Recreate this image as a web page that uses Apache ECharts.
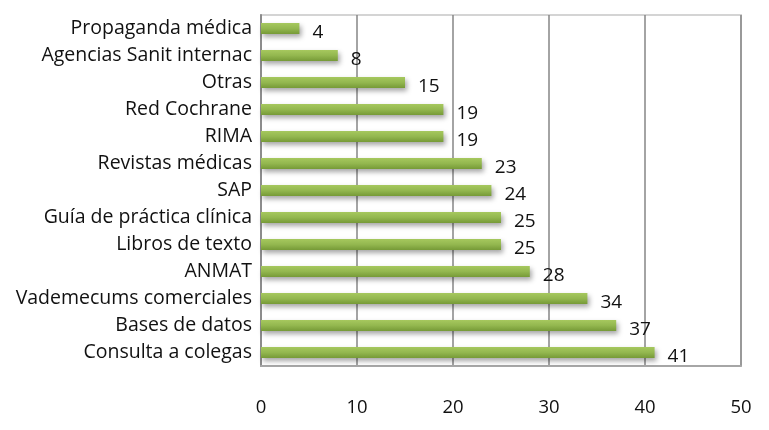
<!DOCTYPE html>
<html><head><meta charset="utf-8">
<script src="https://cdn.jsdelivr.net/npm/echarts@6/dist/echarts.min.js"></script>
<style>html,body{margin:0;padding:0;background:#fff}#c{width:769px;height:430px}</style>
</head><body><div id="c"></div>
<script>
const categories = ["Consulta a colegas","Bases de datos","Vademecums comerciales","ANMAT","Libros de texto","Guía de práctica clínica","SAP","Revistas médicas","RIMA","Red Cochrane","Otras","Agencias Sanit internac","Propaganda médica"];
const values = [41,37,34,28,25,25,24,23,19,19,15,8,4];
const xTicks = [0,10,20,30,40,50];
const FONT = '"Open Sans", "Liberation Sans", sans-serif';
const chart = echarts.init(document.getElementById('c'), null, {renderer:'canvas'});
chart.setOption({
  animation:false,
  grid:{left:261,top:15,width:480,height:351,show:true,borderColor:'#d4d4d4',borderWidth:2,backgroundColor:'#fff'},
  xAxis:{type:'value',min:xTicks[0],max:xTicks[xTicks.length-1],interval:10,
    axisLine:{show:true,lineStyle:{color:'#a6a6a6',width:2}},axisTick:{show:false},
    splitLine:{show:true,lineStyle:{color:'#868686',width:1.5}},
    axisLabel:{color:'#111',fontSize:18.5,fontFamily:FONT,margin:32}},
  yAxis:{type:'category',data:categories,
    axisLine:{show:true,lineStyle:{color:'#8c8c8c',width:2}},axisTick:{show:false},
    axisLabel:{color:'#111',fontSize:19.5,fontFamily:FONT,margin:9}},
  series:[{type:'bar',data:values,barWidth:11,
    itemStyle:{color:new echarts.graphic.LinearGradient(0,0,0,1,[{offset:0,color:'#a6c85e'},{offset:0.5,color:'#93b74f'},{offset:1,color:'#769a37'}]),
      shadowColor:'rgba(0,0,0,0.35)',shadowBlur:5,shadowOffsetX:2,shadowOffsetY:3},
    label:{show:true,position:'right',distance:13,color:'#111',fontSize:19,fontFamily:FONT,offset:[0,4]}}]
});
</script></body></html>
